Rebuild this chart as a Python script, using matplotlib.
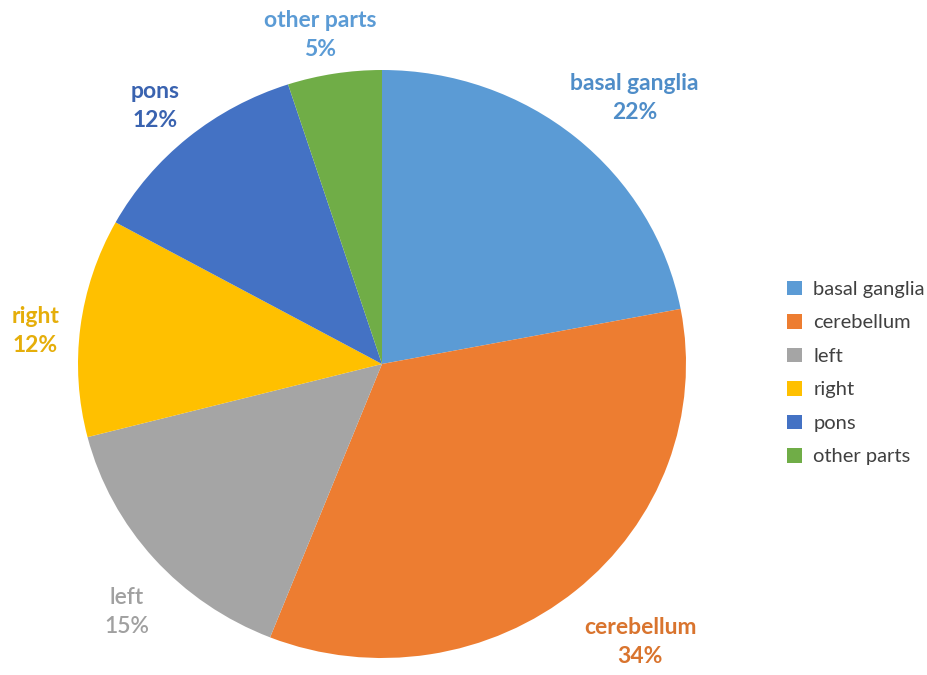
import matplotlib
matplotlib.use('Agg')
from matplotlib import pyplot as plt
from matplotlib.patches import Patch

labels = ['basal ganglia', 'cerebellum', 'left', 'right', 'pons', 'other parts']
values = [22, 34, 15, 12, 12, 5]
colors = ['#5B9BD5', '#ED7D31', '#A5A5A5', '#FFC000', '#4472C4', '#70AD47']
text_colors = ['#4F8DC8', '#D9742E', '#A0A0A0', '#E5AE0A', '#3A63B0', '#5B9BD5']
# label anchor points (data coords, pie radius = 1)
label_pos = [(0.83, 0.905), (0.85, -0.946), (-0.84, -0.844),
             (-1.14, 0.112), (-0.747, 0.878), (-0.204, 1.119)]
label_weight = ['bold', 'bold', 'semibold', 'bold', 'bold', 'bold']

W, H = 928, 675
fig = plt.figure(figsize=(W / 100, H / 100), dpi=100)
# axes placed in pixels so the pie sits where the original does
x0, x1, y0, y1 = 78, 686, 70, 658
ax = fig.add_axes([x0 / W, 1 - y1 / H, (x1 - x0) / W, (y1 - y0) / H])

wedges, _ = ax.pie(values, colors=colors, startangle=90, counterclock=False,
                   radius=1, wedgeprops=dict(linewidth=0))
ax.set_aspect('auto')
ax.set_xlim(-1, 1)
ax.set_ylim(-1, 1)
ax.axis('off')

for lab, v, (x, y), c, w in zip(labels, values, label_pos, text_colors, label_weight):
    ax.text(x, y, '%s\n%d%%' % (lab, v), ha='center', va='center', color=c,
            fontsize=16.5, fontweight=w, family='Lato', linespacing=1.5,
            clip_on=False)

handles = [Patch(facecolor=c, edgecolor='none') for c in colors]
leg = fig.legend(handles, labels, loc='center left', bbox_to_anchor=(769 / W, 1 - 373 / H),
                 frameon=False, prop={'family': 'Lato', 'size': 14.5},
                 handlelength=0.75, handleheight=0.75, handletextpad=0.55,
                 labelspacing=0.8, labelcolor='#404040')

fig.savefig('out.png', dpi=100, facecolor='white')
